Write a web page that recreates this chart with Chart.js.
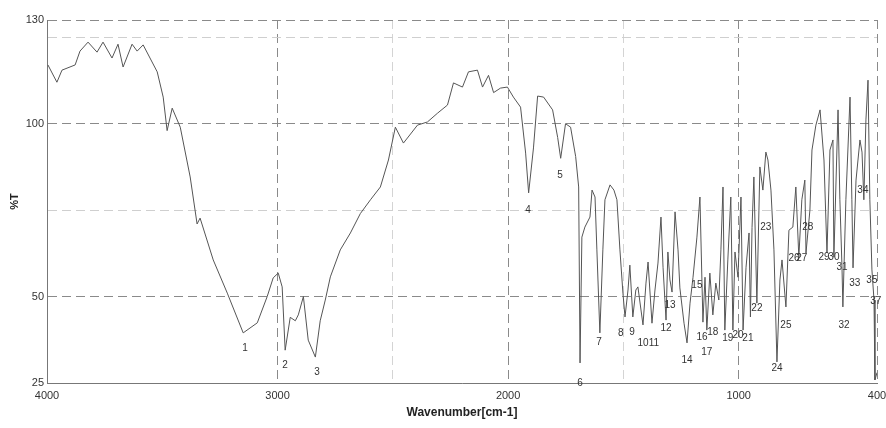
<!DOCTYPE html>
<html>
<head>
<meta charset="utf-8">
<script src="https://cdn.jsdelivr.net/npm/chart.js@4/dist/chart.umd.min.js"></script>
<style>
  body { margin: 0; background: #fff; }
  canvas { display: block; }
</style>
</head>
<body>
<canvas id="ir" width="886" height="428"></canvas>
<script>
// IR spectrum: wavenumber (cm-1) and %T
const wavenumbers = [
  3996, 3957, 3935, 3878, 3857, 3822, 3783, 3757, 3718, 3692, 3670, 3631, 3609, 3583,
  3522, 3496, 3479, 3457, 3422, 3379, 3349, 3336, 3279, 3218, 3149, 3088, 3045, 3019,
  2997, 2980, 2967, 2945, 2923, 2910, 2888, 2867, 2836, 2815, 2793, 2771, 2728, 2684,
  2641, 2597, 2554, 2519, 2489, 2454, 2393, 2350, 2307, 2263, 2237, 2198, 2172, 2133,
  2111, 2085, 2063, 2033, 2003, 1977, 1946, 1924, 1911, 1890, 1872, 1846, 1807, 1785,
  1772, 1751, 1729, 1707, 1694,
  1688, 1680, 1667, 1645, 1636, 1623, 1615, 1602, 1589, 1580, 1558, 1541, 1528, 1515,
  1502, 1493, 1480, 1472, 1459, 1446, 1437, 1415, 1402, 1393, 1376, 1363, 1350, 1337,
  1328, 1315, 1307, 1298, 1289, 1276, 1263, 1255, 1237, 1224, 1211, 1198, 1181, 1168,
  1155, 1146, 1138, 1125, 1112, 1099, 1086, 1077, 1068, 1060, 1047, 1034, 1025, 1016,
  1003, 990, 981, 968, 955, 949, 942, 934, 921, 908, 895, 882, 873, 860, 847, 834,
  821, 812, 795, 782, 765, 752, 739, 726, 713, 708, 691, 682, 665, 647, 630, 617,
  604, 591, 587, 569, 561, 552, 548, 535, 517, 509, 504, 491, 474, 465, 457, 448,
  439, 431, 422, 413, 409, 400
];
const transmittance = [
  117, 112, 115.5, 117, 121, 123.6, 120.7, 123.6, 119, 123, 116.4, 123, 121, 122.8,
  115, 107.7, 98, 104.5, 99, 84.6, 71, 72.7, 60.6, 51, 39.5, 42.4, 50, 55.4,
  56.8, 52.8, 34.5, 44, 43, 44.7, 50, 37.4, 32.5, 43, 49, 55.7, 63.5, 68.4,
  74, 78, 81.7, 89.5, 99, 94.4, 99.6, 100.5, 103, 105.4, 111.8, 110.6, 115, 115.5,
  110.6, 114, 109, 110.3, 110.6, 107.7, 104.8, 91.5, 80, 93, 108, 107.7, 104, 96,
  90, 100, 99, 90.5, 81.7,
  30.8, 67.2, 70.1, 73, 80.8, 78.8, 63.5, 39.5, 63.5, 78, 82.3, 80.8, 78, 63.5,
  51, 44.1, 51.9, 59.1, 44.1, 51.9, 52.8, 41.8, 53.9, 60, 42.3, 51.9, 59.7, 73,
  58.5, 43.2, 62.9, 54.8, 51.3, 74.5, 63.5, 52.5, 42.3, 36.6, 48.1, 55.6, 67.2, 78.8,
  42.6, 55.6, 40.3, 56.8, 44.7, 53.9, 49, 63.5, 81.7, 40.3, 60.6, 78.8, 40.3, 62.9,
  55.6, 78.8, 40.3, 58.5, 68.4, 44.1, 70, 84.6, 48.1, 87.5, 80.8, 91.8, 89.5, 80.8, 63.5, 31.1,
  54.8, 60.6, 47, 69.2, 70.1, 81.7, 61.4, 78, 83.7, 62.6, 75, 92.4, 99.6, 104, 89.5, 62.6,
  92.4, 95.3, 61.4, 104, 78, 58.8, 47, 78, 107.7, 78, 58.3, 83.7, 95.3, 91.8, 78, 101.1,
  112.6, 78, 57.7, 49, 25.9, 28
];

// peak numbers and where their labels sit
const peakNumbers = [
  "1", "2", "3", "4", "5", "6", "7", "8", "9", "10", "11", "12", "13", "14", "15", "16", "17", "18",
  "19", "20", "21", "22", "23", "24", "25", "26", "27", "28", "29", "30", "31", "32", "33", "34", "35", "37"
];
const peakLabelX = [
  3141, 2968, 2829, 1914, 1775, 1688, 1606, 1511, 1463, 1415, 1368, 1315, 1298, 1224, 1181, 1159, 1138, 1112,
  1047, 1003, 960, 921, 882, 834, 795, 760, 726, 700, 630, 587, 552, 543, 496, 461, 422, 405
];
const peakLabelY = [
  35.1, 30.2, 28.2, 75, 85.2, 25, 36.8, 39.4, 39.7, 36.6, 36.6, 40.9, 47.5, 31.6, 53.3, 38.3, 34, 39.7,
  38, 38.9, 38, 46.7, 70.1, 29.3, 41.8, 61.1, 61.1, 70.1, 61.4, 61.4, 58.5, 41.8, 53.9, 80.8, 54.8, 48.7
];

const yTicks = [25, 50, 75, 100, 125, 130];
const yLabelled = [25, 50, 100, 130];
const xTicks = [4000, 3500, 3000, 2500, 2000, 1500, 1000, 400];
const xLabelled = [4000, 3000, 2000, 1000, 400];

const points = wavenumbers.map((w, i) => ({ x: w, y: transmittance[i] }));

// writes the peak numbers under the bands
const peakLabels = {
  id: "peakLabels",
  afterDatasetsDraw(chart) {
    const { ctx, scales } = chart;
    ctx.save();
    ctx.font = "10px 'Liberation Sans', Arial, sans-serif";
    ctx.fillStyle = "#333";
    ctx.textAlign = "center";
    ctx.textBaseline = "middle";
    peakNumbers.forEach((n, i) => {
      ctx.fillText(n, scales.x.getPixelForValue(peakLabelX[i]), scales.y.getPixelForValue(peakLabelY[i]));
    });
    ctx.restore();
  }
};

const xGridColor = (v) => {
  if ([3000, 2000, 1000, 400].includes(v)) return "#8a8a8a";
  if (v === 3500) return "rgba(0,0,0,0)";
  return "#d4d4d4";
};

new Chart(document.getElementById("ir"), {
  type: "line",
  data: {
    datasets: [{
      data: points,
      borderColor: "#555",
      borderWidth: 1,
      pointRadius: 0,
      tension: 0,
      fill: false
    }]
  },
  options: {
    responsive: false,
    animation: false,
    layout: { padding: { top: 20, right: 0, left: 0, bottom: 0 } },
    plugins: { legend: { display: false }, tooltip: { enabled: false } },
    scales: {
      x: {
        type: "linear",
        reverse: true,
        min: 400,
        max: 4000,
        afterBuildTicks: (s) => { s.ticks = xTicks.map(v => ({ value: v })); },
        afterFit: (s) => {
          s.height = 45;
          s.paddingLeft = 0;
          s.paddingRight = 9;
        },
        ticks: {
          autoSkip: false,
          maxRotation: 0,
          padding: 6,
          color: "#333",
          font: { family: "'Liberation Sans', Arial, sans-serif", size: 11 },
          callback: (v) => xLabelled.includes(v) ? String(v) : ""
        },
        grid: {
          drawTicks: false,
          color: (c) => c.tick ? xGridColor(c.tick.value) : "#8a8a8a"
        },
        border: { color: "#777", dash: [9, 5] },
        title: {
          display: true,
          text: "Wavenumber[cm-1]",
          color: "#222",
          font: { family: "'Liberation Sans', Arial, sans-serif", size: 12, weight: "bold" },
          padding: { top: 2, bottom: 8 }
        }
      },
      y: {
        min: 25,
        max: 130,
        afterBuildTicks: (s) => { s.ticks = yTicks.map(v => ({ value: v })); },
        afterFit: (s) => { s.width = 47; },
        ticks: {
          padding: 3,
          color: "#333",
          font: { family: "'Liberation Sans', Arial, sans-serif", size: 11 },
          callback: (v) => yLabelled.includes(v) ? String(v) : ""
        },
        grid: {
          drawTicks: false,
          color: (c) => c.tick && [50, 100, 130].includes(c.tick.value) ? "#8a8a8a" : "#cfcfcf"
        },
        border: { color: "#777", dash: [9, 5] },
        title: {
          display: true,
          text: "%T",
          color: "#222",
          font: { family: "'Liberation Sans', Arial, sans-serif", size: 11, weight: "bold" },
          padding: { top: 8, bottom: 4 }
        }
      }
    }
  },
  plugins: [peakLabels]
});
</script>
</body>
</html>
